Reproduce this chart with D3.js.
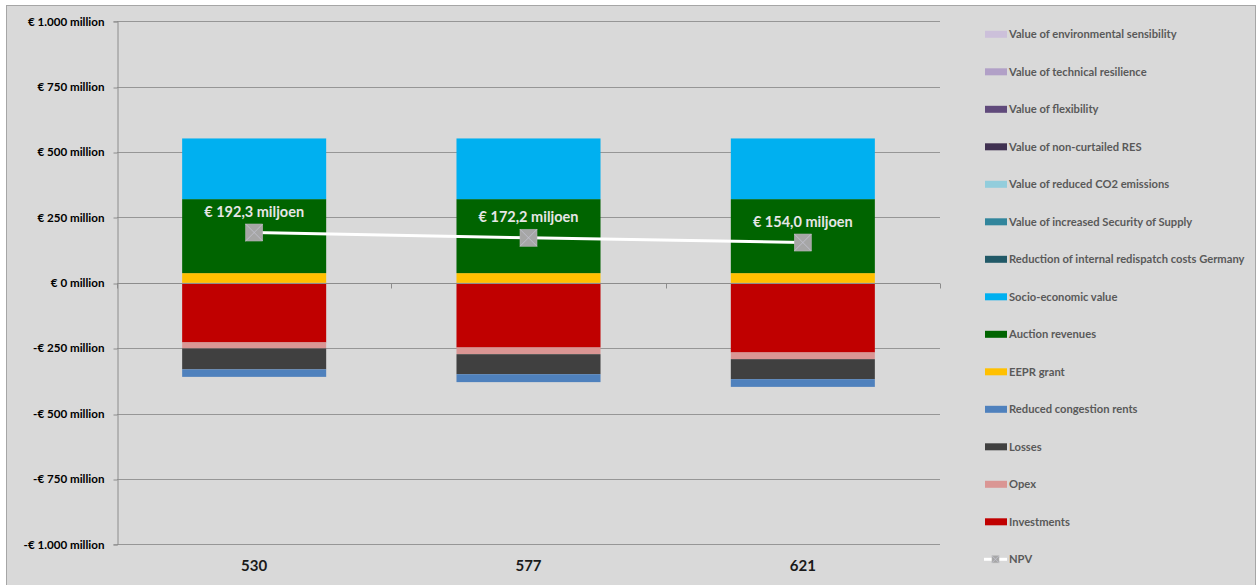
<!DOCTYPE html>
<html>
<head>
<meta charset="utf-8">
<script src="https://cdn.jsdelivr.net/npm/d3@7"></script>
<style>
  html, body { margin: 0; padding: 0; background: #ffffff; }
  svg { display: block; }
  text { font-family: Lato, "Noto Sans", sans-serif; }
</style>
</head>
<body>
<svg id="chart" width="1258" height="585"></svg>
<script>
// Project variants (cable capacity, MW)
const categories = ["530", "577", "621"];

// Series in stacking order (millions of euros); negatives are costs
const seriesNames = [
  "Investments", "Opex", "Losses", "Reduced congestion rents",
  "EEPR grant", "Auction revenues", "Socio-economic value",
  "Reduction of internal redispatch costs Germany",
  "Value of increased Security of Supply",
  "Value of reduced CO2 emissions",
  "Value of non-curtailed RES",
  "Value of flexibility",
  "Value of technical resilience",
  "Value of environmental sensibility"
];
const seriesColors = [
  "#c00000", "#da9694", "#404040", "#4f81bd",
  "#ffc000", "#006400", "#00b0f0",
  "#215967", "#31859c", "#92cddc",
  "#403151", "#604a7b", "#b1a0c7", "#ccc0da"
];

const investments = [-228.0, -247.5, -266.5];
const opex = [-23.0, -25.5, -25.5];
const losses = [-80.0, -76.5, -76.5];
const congestionRents = [-28.7, -30.3, -29.5];
const eeprGrant = [37, 37, 37];
const auctionRevenues = [283, 283, 283];
const socioEconomic = [232, 232, 232];
const redispatchGermany = [0, 0, 0];
const securityOfSupply = [0, 0, 0];
const reducedCO2 = [0, 0, 0];
const nonCurtailedRES = [0, 0, 0];
const flexibility = [0, 0, 0];
const technicalResilience = [0, 0, 0];
const environmentalSensibility = [0, 0, 0];

const seriesValues = [
  investments, opex, losses, congestionRents,
  eeprGrant, auctionRevenues, socioEconomic,
  redispatchGermany, securityOfSupply, reducedCO2,
  nonCurtailedRES, flexibility, technicalResilience, environmentalSensibility
];

// Net present value per variant
const npv = [192.3, 172.2, 154.0];
const npvLabels = ["€ 192,3 miljoen", "€ 172,2 miljoen", "€ 154,0 miljoen"];

// Value axis
const yTicks = [1000, 750, 500, 250, 0, -250, -500, -750, -1000];
const yTickLabels = ["€ 1.000 million", "€ 750 million", "€ 500 million", "€ 250 million",
  "€ 0 million", "-€ 250 million", "-€ 500 million", "-€ 750 million", "-€ 1.000 million"];

const svg = d3.select("#chart");
const W = 1258, H = 585;

// chart area background with a thin frame
svg.append("rect").attr("x", 6.5).attr("y", 5.5).attr("width", W - 9).attr("height", H)
  .attr("fill", "#d9d9d9").attr("stroke", "#a6a6a6").attr("stroke-width", 1);

const plot = { left: 117, right: 940, top: 21.3, bottom: 544.3 };

const x = d3.scaleBand().domain(categories).range([plot.left, plot.right]).paddingInner(0.475).paddingOuter(0.2375);
const y = d3.scaleLinear().domain([-1000, 1000]).range([plot.bottom, plot.top]);

// gridlines
svg.append("g").selectAll("line").data(yTicks).join("line")
  .attr("x1", plot.left).attr("x2", plot.right)
  .attr("y1", d => Math.round(y(d)) + 0.5).attr("y2", d => Math.round(y(d)) + 0.5)
  .attr("stroke", "#969696").attr("stroke-width", 1);

// value axis
const yAxis = d3.axisLeft(y).tickValues(yTicks).tickSize(4).tickPadding(9)
  .tickFormat((d, i) => yTickLabels[i]);
const gy = svg.append("g").attr("transform", `translate(${plot.left + 0.5},0)`).call(yAxis);
gy.select(".domain").attr("stroke", "#8c8c8c");
gy.selectAll(".tick line").attr("stroke", "#8c8c8c")
  .attr("transform", d => `translate(0,${Math.round(y(d)) + 0.5 - y(d)})`);
gy.selectAll(".tick text").attr("fill", "#000").attr("font-size", "11.6px").attr("font-weight", "bold")
  .attr("font-family", "Lato, sans-serif");

// stacked bars
const rows = categories.map((c, i) => {
  const r = { category: c };
  seriesNames.forEach((s, k) => { r[s] = seriesValues[k][i]; });
  return r;
});
const stack = d3.stack().keys(seriesNames).offset(d3.stackOffsetDiverging);
const stacked = stack(rows);

const barsG = svg.append("g");
stacked.forEach((layer, k) => {
  barsG.append("g").attr("fill", seriesColors[k])
    .selectAll("rect").data(layer.filter(d => d[1] !== d[0])).join("rect")
    .attr("x", d => x(d.data.category))
    .attr("width", x.bandwidth())
    .attr("y", d => y(Math.max(d[0], d[1])))
    .attr("height", d => Math.abs(y(d[0]) - y(d[1])));
});

// category axis crossing at zero
const zeroY = Math.round(y(0)) + 0.5;
svg.append("line").attr("x1", plot.left).attr("x2", plot.right).attr("y1", zeroY).attr("y2", zeroY)
  .attr("stroke", "#8c8c8c");
const boundaries = d3.range(categories.length + 1).map(i => plot.left + i * (plot.right - plot.left) / categories.length);
svg.append("g").selectAll("line").data(boundaries).join("line")
  .attr("x1", d => Math.round(d) + 0.5).attr("x2", d => Math.round(d) + 0.5)
  .attr("y1", zeroY).attr("y2", zeroY + 5).attr("stroke", "#8c8c8c");

svg.append("g").selectAll("text").data(categories).join("text")
  .attr("x", d => x(d) + x.bandwidth() / 2).attr("y", 571)
  .attr("text-anchor", "middle").attr("font-size", "15px").attr("font-weight", "bold")
  .attr("fill", "#1a1a1a").text(d => d);

// NPV line with markers
const cx = (c) => x(c) + x.bandwidth() / 2;
const npvPts = categories.map((c, i) => [cx(c), y(npv[i])]);
svg.append("path").attr("d", d3.line()(npvPts)).attr("fill", "none")
  .attr("stroke", "#ffffff").attr("stroke-width", 3);

function marker(g, px, py, s) {
  g.append("rect").attr("x", px - s / 2).attr("y", py - s / 2).attr("width", s).attr("height", s)
    .attr("fill", "#a6a6a6").attr("stroke", "#b4b4b4").attr("stroke-width", 0.6);
  g.append("path").attr("d", `M${px - s / 2},${py - s / 2}L${px + s / 2},${py + s / 2}M${px + s / 2},${py - s / 2}L${px - s / 2},${py + s / 2}`)
    .attr("stroke", "#c4c4d0").attr("stroke-width", 0.8);
}
const mG = svg.append("g");
npvPts.forEach(p => marker(mG, p[0], p[1], 17));

svg.append("g").selectAll("text").data(categories).join("text")
  .attr("x", d => cx(d)).attr("y", (d, i) => y(npv[i]) - 16)
  .attr("text-anchor", "middle").attr("font-size", "14.5px").attr("font-weight", "bold")
  .attr("fill", "#e6e6e6").text((d, i) => npvLabels[i]);

// legend (last series at the top, NPV at the bottom)
const legendItems = seriesNames.map((s, k) => ({ name: s, color: seriesColors[k] })).reverse();
legendItems.push({ name: "NPV", line: true });
const lg = svg.append("g");
legendItems.forEach((it, i) => {
  const ly = 34.3 + i * 37.5;
  if (it.line) {
    lg.append("line").attr("x1", 984).attr("x2", 1007).attr("y1", ly).attr("y2", ly)
      .attr("stroke", "#ffffff").attr("stroke-width", 3);
    marker(lg, 995.5, ly, 7);
  } else {
    lg.append("rect").attr("x", 985).attr("y", ly - 3.5).attr("width", 22).attr("height", 7)
      .attr("fill", it.color);
  }
  lg.append("text").attr("x", 1009).attr("y", ly).attr("dy", "0.35em")
    .attr("font-size", "11.2px").attr("font-weight", "bold").attr("fill", "#595959").text(it.name);
});
</script>
</body>
</html>
